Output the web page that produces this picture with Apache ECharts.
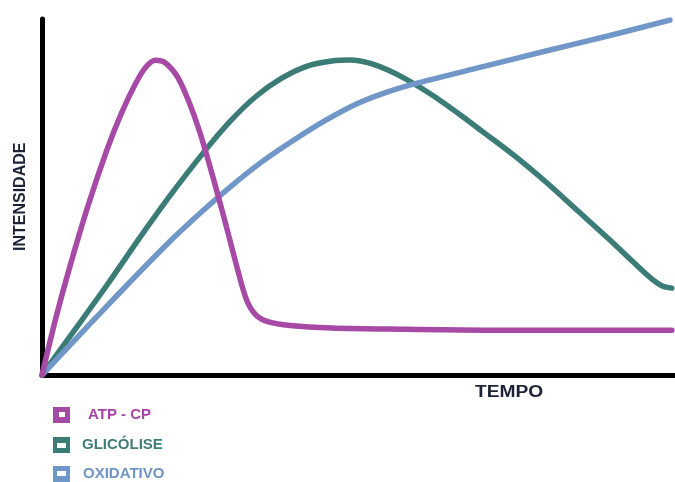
<!DOCTYPE html>
<html>
<head>
<meta charset="utf-8">
<script src="https://cdn.jsdelivr.net/npm/echarts@6/dist/echarts.min.js"></script>
<style>
html,body{margin:0;padding:0;background:#fff;}
#chart{width:675px;height:482px;}
</style>
</head>
<body>
<div id="chart"></div>
<script>
// Time (x, 0-100) and intensity (y, 0-100)
var atpX = [0, 2.2, 4.4, 7.3, 10.3, 12.6, 14.9, 16.5, 18.0, 19.5, 21.5, 23.2, 25.0, 27.0, 29.0, 31.0, 32.5, 34.0, 36.0, 39.4, 46.0, 55.0, 70.0, 100];
var atpY = [0, 16.0, 30.3, 47.5, 63.2, 73.5, 82.0, 86.5, 88.4, 87.8, 83.8, 77.3, 68.5, 56.5, 43.5, 30.0, 21.0, 16.8, 14.9, 13.9, 13.2, 12.9, 12.6, 12.6];
var glicX = [0, 5, 10.3, 15.5, 20.3, 25.6, 30, 34, 38, 42, 46, 49, 52, 55, 58, 62, 66, 70, 75, 80, 85, 90, 94, 96.8, 98.5, 100];
var glicY = [0, 12.2, 25.2, 38.5, 50.3, 62.4, 71.5, 78.3, 83.3, 86.7, 88.2, 88.5, 87.6, 85.6, 82.9, 78.6, 73.6, 68.3, 61.6, 54.2, 46.2, 38.2, 31.5, 27.0, 25.0, 24.4];
var oxiX = [0, 10, 20, 25, 30, 35, 40, 45, 50, 55, 60, 70, 80, 90, 99.7];
var oxiY = [0, 18.8, 37.0, 45.3, 53.0, 60.0, 66.0, 71.5, 76.2, 79.6, 82.2, 86.6, 91.0, 95.3, 99.7];
var seriesNames = ['ATP - CP', 'GLICÓLISE', 'OXIDATIVO'];
var xTitle = 'TEMPO';
var yTitle = 'INTENSIDADE';

var colors = { 'ATP - CP': '#a64aa6', 'GLICÓLISE': '#3c7c77', 'OXIDATIVO': '#7097c8' };
var textColors = { 'ATP - CP': '#a444a3', 'GLICÓLISE': '#3f7d7a', 'OXIDATIVO': '#6f94c6' };

function pairs(xs, ys) { return xs.map(function (x, i) { return [x, ys[i]]; }); }

var chart = echarts.init(document.getElementById('chart'));
var font = '"Liberation Sans", Arial, sans-serif';

function mkSeries(name, xs, ys) {
  return {
    name: name, type: 'line', data: pairs(xs, ys), smooth: 0.3,
    showSymbol: false, symbol: 'none', color: colors[name],
    lineStyle: { width: 5.5, color: colors[name], cap: 'round', join: 'round' },
    animation: false
  };
}

function mkLegend(name, top, icon, padLeft) {
  return {
    orient: 'vertical', left: 53, top: top, padding: 0,
    itemWidth: 17, itemHeight: 16, selectedMode: false,
    data: [{ name: name, icon: icon }],
    formatter: function (n) { return '{t|' + n + '}'; },
    textStyle: {
      fontFamily: font, fontWeight: 'bold', fontSize: 15,
      rich: { t: { color: textColors[name], fontFamily: font, fontWeight: 'bold', fontSize: 15, padding: [0, 0, 0, padLeft] } }
    }
  };
}

chart.setOption({
  animation: false,
  backgroundColor: '#ffffff',
  grid: { left: 42, right: 0, top: 19, bottom: 107 },
  xAxis: {
    type: 'value', min: 0, max: 100.5,
    axisLine: { show: true, lineStyle: { color: '#000', width: 5 } },
    axisTick: { show: false }, axisLabel: { show: false }, splitLine: { show: false }
  },
  yAxis: {
    type: 'value', min: 0, max: 100,
    axisLine: { show: true, lineStyle: { color: '#000', width: 5 } },
    axisTick: { show: false }, axisLabel: { show: false }, splitLine: { show: false }
  },
  legend: [
    mkLegend(seriesNames[0], 407, 'path://M0,0L17,0L17,16L0,16Z M6,5L6,10L12,10L12,5Z', 13),
    mkLegend(seriesNames[1], 437, 'path://M0,0L17,0L17,16L0,16Z M4,6L4,11L13,11L13,6Z', 7),
    mkLegend(seriesNames[2], 466, 'path://M0,0L17,0L17,16L0,16Z M4,5L4,10L13,10L13,5Z', 8)
  ],
  graphic: [
    {
      type: 'text', left: 475, top: 385, scaleX: 1.2,
      style: { text: xTitle, fill: '#1e2236', font: 'bold 16px ' + font }
    },
    {
      type: 'text', x: 13, y: 251, rotation: Math.PI / 2,
      style: { text: yTitle, fill: '#1e2236', font: 'bold 16px ' + font }
    }
  ],
  series: [
    mkSeries(seriesNames[1], glicX, glicY),
    mkSeries(seriesNames[2], oxiX, oxiY),
    mkSeries(seriesNames[0], atpX, atpY)
  ]
});
</script>
</body>
</html>
